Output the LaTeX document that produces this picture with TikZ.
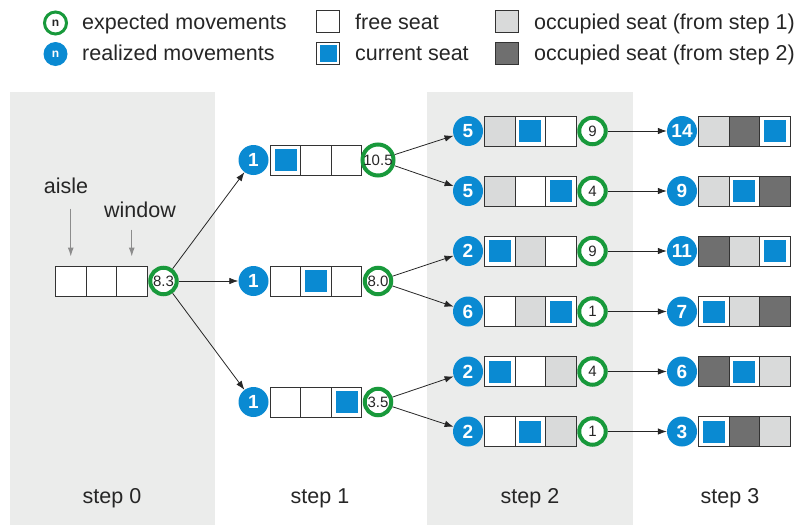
\documentclass[tikz,border=0pt]{standalone}
\usepackage{fontspec}
\setmainfont{Liberation Sans}
\usetikzlibrary{arrows.meta}
\definecolor{seatblue}{HTML}{0A8AD2}
\definecolor{ringgreen}{HTML}{18993B}
\definecolor{occA}{HTML}{D9DADA}
\definecolor{occB}{HTML}{6F6F6F}
\definecolor{panel}{HTML}{EBECEB}
\begin{document}
\begin{tikzpicture}[x=1pt, y=-1pt,
  every node/.style={font=\fontsize{21.5}{24}\selectfont, text=black!85},
  cell/.style={draw=black!80, line width=0.9pt, minimum width=30.5pt, minimum height=30pt, inner sep=0},
  cur/.style={fill=seatblue, minimum size=22pt, inner sep=0},
  real/.style={circle, fill=seatblue, minimum size=30pt, inner sep=0, text=white, font=\bfseries\fontsize{19}{19}\selectfont},
  expc/.style={circle, draw=ringgreen, fill=white, line width=4pt, minimum size=26.5pt, inner sep=0, font=\fontsize{15}{15}\selectfont},
  move/.style={-{Latex[length=9pt,width=6.5pt]}, line width=0.8pt, black!85},
  pointer/.style={-{Latex[length=9pt,width=6pt]}, line width=1.1pt, black!45}]
  \useasboundingbox (0,0) rectangle (802,525);
  \fill[panel] (9.5,92) rectangle (214.5,525);
  \fill[panel] (427,92) rectangle (633,525);

  % legend
  \node[expc, line width=3pt, minimum size=22pt, font=\bfseries\fontsize{12}{12}\selectfont] (lexp) at (55.5,23) {n};
  \node[real, minimum size=24pt, font=\bfseries\fontsize{12}{12}\selectfont] (lreal) at (55.5,54) {n};
  \node[anchor=base west, inner sep=0] (texp) at (82,29) {expected movements};
  \node[anchor=base west, inner sep=0] (treal) at (82,60) {realized movements};
  \node[cell, minimum width=23pt, minimum height=22pt, fill=white] (lfree) at (328.3,21.7) {};
  \node[cell, minimum width=23pt, minimum height=22pt, fill=white] (lcur) at (328.3,53.7) {};
  \node[cur, minimum size=16.5pt] (lcurin) at (lcur) {};
  \node[anchor=base west, inner sep=0] (tfree) at (355,29) {free seat};
  \node[anchor=base west, inner sep=0] (tcur) at (355,60) {current seat};
  \node[cell, minimum width=23pt, minimum height=22pt, fill=occA] (locc1) at (507,21.7) {};
  \node[cell, minimum width=23pt, minimum height=22pt, fill=occB] (locc2) at (507,53.7) {};
  \node[anchor=base west, inner sep=0] (tocc1) at (534,29) {occupied seat (from step 1)};
  \node[anchor=base west, inner sep=0] (tocc2) at (534,60) {occupied seat (from step 2)};

  % step 0
  \foreach \k in {1,2,3}
    \node[cell, fill=white] (s0-\k) at (40.25+30.5*\k,281) {};
  \node[expc] (g0) at (163.5,281) {8.3};
  \node[anchor=base] (aisle) at (66,193) {aisle};
  \node[anchor=base] (window) at (140,217) {window};
  \draw[pointer] ([yshift=57pt]s0-1.north) -- ([yshift=9pt]s0-1.north);
  \draw[pointer] ([yshift=36pt]s0-3.north) -- ([yshift=9pt]s0-3.north);

  % step 1
  \foreach \i/\y/\p/\e in {1/160/1/10.5, 2/281/2/8.0, 3/402/3/3.5} {
    \node[real] (b1-\i) at (253.5,\y) {1};
    \foreach \k in {1,2,3}
      \node[cell, fill=white] (s1-\i-\k) at (255+30.5*\k,\y) {};
    \node[cur] (c1-\i) at (s1-\i-\p) {};
    \node[expc] (g1-\i) at (378,\y) {\e};
  }

  % step 2
  \foreach \i/\y/\n/\p/\fa/\fb/\fc/\e in {
      1/131/5/2/occA/white/white/9, 2/191/5/3/occA/white/white/4,
      3/251/2/1/white/occA/white/9, 4/311.5/6/3/white/occA/white/1,
      5/371.5/2/1/white/white/occA/4, 6/431.5/2/2/white/white/occA/1} {
    \node[real] (b2-\i) at (468,\y) {\n};
    \foreach \f [count=\k] in {\fa,\fb,\fc}
      \node[cell, fill=\f] (s2-\i-\k) at (469.25+30.5*\k,\y) {};
    \node[cur] (c2-\i) at (s2-\i-\p) {};
    \node[expc] (g2-\i) at (592.5,\y) {\e};
  }

  % step 3
  \foreach \i/\y/\n/\p/\fa/\fb/\fc in {
      1/131/14/3/occA/occB/white, 2/191/9/2/occA/white/occB,
      3/251/11/3/occB/occA/white, 4/311.5/7/1/white/occA/occB,
      5/371.5/6/2/occB/white/occA, 6/431.5/3/1/white/occB/occA} {
    \node[real] (b3-\i) at (682,\y) {\n};
    \foreach \f [count=\k] in {\fa,\fb,\fc}
      \node[cell, fill=\f] (s3-\i-\k) at (683.25+30.5*\k,\y) {};
    \node[cur] (c3-\i) at (s3-\i-\p) {};
  }

  % movements
  \foreach \k in {1,2,3}
    \draw[move] (g0) -- (b1-\k);
  \foreach \i/\k in {1/1,1/2,2/3,2/4,3/5,3/6}
    \draw[move] (g1-\i) -- (b2-\k);
  \foreach \k in {1,...,6}
    \draw[move] (g2-\k) -- (b3-\k);

  \foreach \s/\x in {0/112,1/320,2/530,3/730}
    \node[anchor=base] (step\s) at (\x,503) {step \s};
\end{tikzpicture}
\end{document}
